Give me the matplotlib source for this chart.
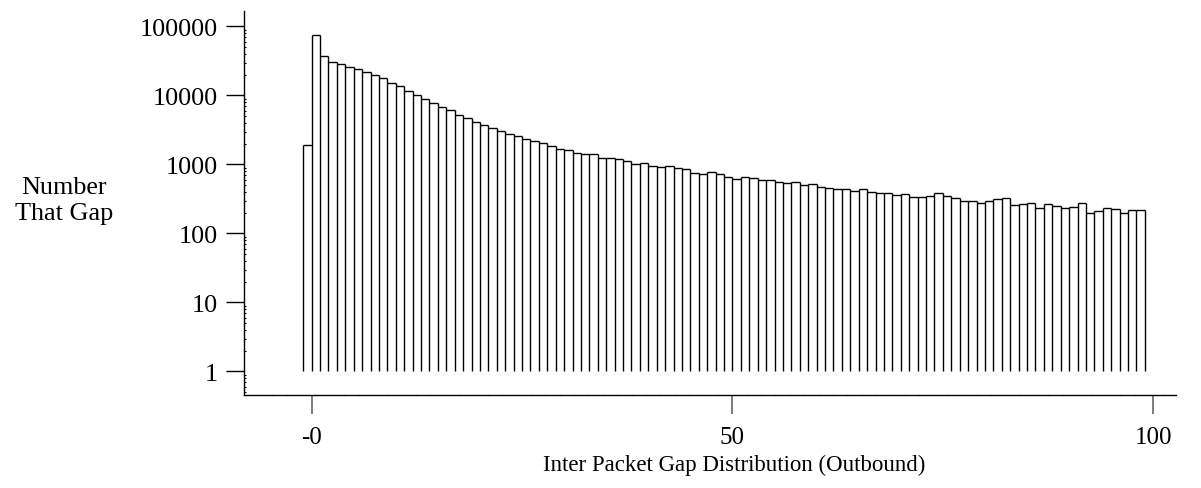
import numpy as np
import matplotlib
matplotlib.use("Agg")
import matplotlib.pyplot as plt
from matplotlib.ticker import FixedLocator, LogLocator, NullFormatter

plt.rcParams["font.family"] = ["Liberation Serif", "DejaVu Serif"]

# Inter-packet gap histogram (outbound): gap value -> number of packets with that gap
gaps = list(range(-1, 99))
counts = [
    1900, 76000, 37700, 30900, 28300, 26100, 24200, 21900, 19800, 17700,
    15200, 13600, 11600, 10300, 8900, 7790, 6750, 6110, 5270, 4680,
    4170, 3700, 3380, 3060, 2800, 2560, 2340, 2170, 2030, 1850,
    1690, 1640, 1470, 1435, 1420, 1240, 1230, 1190, 1120, 1017,
    1050, 951, 911, 942, 890, 869, 745, 728, 787, 721,
    659, 623, 659, 631, 590, 602, 552, 534, 563, 505,
    522, 477, 461, 446, 446, 409, 437, 399, 390, 390,
    365, 377, 335, 338, 353, 383, 353, 324, 296, 299,
    279, 299, 316, 324, 259, 270, 274, 237, 270, 253,
    234, 245, 279, 200, 212, 232, 224, 200, 219, 217,
]
x_ticks = [0, 50, 100]
x_tick_labels = ["-0", "50", "100"]
y_ticks = [1, 10, 100, 1000, 10000, 100000]
y_tick_labels = ["1", "10", "100", "1000", "10000", "100000"]

W, H = 1201, 489
fig = plt.figure(figsize=(W / 100, H / 100), dpi=100)
ax = fig.add_axes([244 / W, (H - 396) / H, (1176 - 244) / W, (396 - 12) / H])

ax.set_yscale("log")
ax.set_xlim(-8.04, 102.7)
ax.set_ylim(10 ** -0.3406, 10 ** 5.2246)

# open-bottomed bars: a shared vertical edge between neighbours, flat tops
vals = np.asarray(counts, dtype=float)
edges = np.arange(gaps[0], gaps[-1] + 2)
left_h = np.concatenate([[0.0], vals])
right_h = np.concatenate([vals, [0.0]])
edge_h = np.maximum(left_h, right_h)
ax.vlines(edges, 1, edge_h, colors="black", linewidth=1.0)
ax.hlines(vals, edges[:-1], edges[1:], colors="black", linewidth=1.0)

for side in ("top", "right"):
    ax.spines[side].set_visible(False)
ax.spines["left"].set_linewidth(1.0)
ax.spines["bottom"].set_linewidth(1.0)
ax.spines["bottom"].set_linestyle((0, (9.6, 0.75)))

ax.yaxis.set_major_locator(FixedLocator(y_ticks))
ax.set_yticklabels(y_tick_labels)
ax.yaxis.set_minor_locator(LogLocator(base=10, subs=np.arange(2, 10), numticks=20))
ax.yaxis.set_minor_formatter(NullFormatter())
ax.tick_params(axis="y", which="major", direction="out", length=13, width=1.0,
               pad=6, labelsize=18.8)
ax.tick_params(axis="y", which="minor", direction="in", length=1.5, width=0.8)

ax.set_xticks(x_ticks)
ax.set_xticklabels(x_tick_labels)
ax.tick_params(axis="x", which="major", direction="out", length=13.7, width=1.2,
               color="#666666", pad=8.6, labelsize=18)

ax.set_xlabel("Inter Packet Gap Distribution (Outbound)", fontsize=16.5)
# axis title sits centred under the 50 tick
ax.xaxis.set_label_coords(734 / W, 1 - 465 / H, transform=fig.transFigure)
ax.xaxis.label.set_va("center")

fig.text(64 / W, 1 - 201 / H, "Number\nThat Gap", ha="center", va="center",
         fontsize=18.8, linespacing=1.2)

fig.savefig("out.png", dpi=100)
